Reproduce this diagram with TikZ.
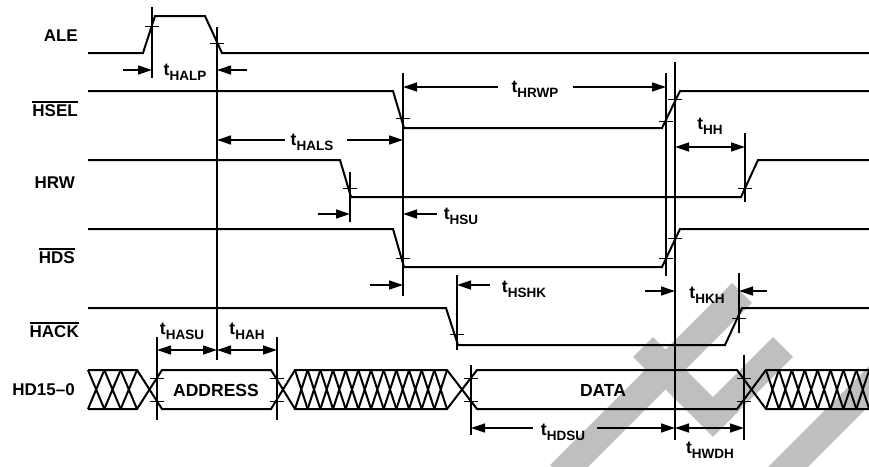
\documentclass[tikz,border=0pt]{standalone}
\usepackage{fontspec}
\setmainfont{Liberation Sans}
\usetikzlibrary{arrows.meta}
\definecolor{wmark}{HTML}{BFBFBF}

\newcommand{\tsub}[1]{t\raisebox{-0.3em}{\fontsize{13.5}{13.5}\selectfont #1}}
\newcommand{\ovl}[1]{\sbox0{#1}\rlap{\raisebox{\dimexpr\ht0+1.8pt\relax}{\rule{\wd0}{1.5pt}}}\usebox0}
\newcommand{\xhatch}[3]{\foreach \k in {1,...,#3}{\draw[sig] ({#1+(\k-1)*#2},370) -- ({#1+\k*#2},409) ({#1+(\k-1)*#2},409) -- ({#1+\k*#2},370);}}

\begin{document}
\begin{tikzpicture}[x=1pt, y=-1pt,
  sig/.style={line width=2pt, line join=miter},
  guide/.style={line width=1.1pt},
  tck/.style={line width=1pt},
  dimarrow/.style={line width=1.3pt, -{Triangle[length=14pt, width=9pt]}},
  dimboth/.style={line width=1.3pt, {Triangle[length=14pt, width=9pt]}-{Triangle[length=14pt, width=9pt]}},
  signame/.style={anchor=east, inner sep=0pt, font=\fontsize{17}{17}\selectfont\bfseries},
  tlabel/.style={inner sep=0pt, font=\fontsize{17.5}{17.5}\selectfont\bfseries},
  band/.style={wmark, line width=28pt}
]
  \useasboundingbox (0,0) rectangle (869,466);

  % watermark
  \draw[band] (742,293) -- (560,475);
  \draw[band] (783,347) -- (713,417) -- (643,347);
  \draw[band] (885,370) -- (775,480);

  % Signal names
  \node[signame] (ale) at (78,36) {ALE};
  \node[signame] (hsel) at (78,109) {\ovl{HSEL}};
  \node[signame] (hrw) at (75,183) {HRW};
  \node[signame] (hds) at (75,256) {\ovl{HDS}};
  \node[signame] (hack) at (79,330) {\ovl{HACK}};
  \node[signame] (hd) at (75,390) {HD15--0};

  % Waveforms
  \draw[sig] (88,53) -- (143,53) -- (155,16) -- (205,16) -- (222,53) -- (869,53);
  \draw[sig] (88,91) -- (393,91) -- (404,128) -- (662,128) -- (680,91) -- (869,91);
  \draw[sig] (88,160) -- (340,160) -- (351,197) -- (741,197) -- (758,160) -- (869,160);
  \draw[sig] (88,229) -- (393,229) -- (404,267) -- (662,267) -- (680,229) -- (869,229);
  \draw[sig] (88,308) -- (446,308) -- (458,345) -- (725,345) -- (742,308) -- (869,308);

  % Bus
  \draw[sig] (88,370) -- (137,370) -- (162,409) -- (271,409) -- (295,370) -- (447,370) -- (477,409) -- (737,409) -- (766,370) -- (869,370);
  \draw[sig] (88,409) -- (137,409) -- (162,370) -- (271,370) -- (295,409) -- (447,409) -- (477,370) -- (737,370) -- (766,409) -- (869,409);
  \xhatch{88}{16.33}{3}
  \xhatch{295}{12.67}{12}
  \xhatch{766}{12.9}{8}
  \node[tlabel] (addr) at (216,390) {ADDRESS};
  \node[tlabel] (data) at (603,390) {DATA};

  % Reference lines
  \foreach \x/\a/\b in {152/7/78, 217/27/360, 403/73/296, 350/172/222, 666/73/276,
                        675/62/440, 745/133/202, 457/275/350, 739/273/333,
                        157/337/420, 277/337/420, 471/365/435, 744/355/440}
    \draw[guide] (\x,\a) -- (\x,\b);

  % Crossing ticks
  \foreach \x/\y in {152/26, 217/43, 403/118, 666/121, 675/99, 350/188, 745/188,
                     403/258, 666/258, 675/238, 457/334, 739/318,
                     157/378, 157/401, 277/378, 277/401, 471/378, 471/401, 744/378, 744/401}
    \draw[tck] (\x-7,\y) -- (\x+7,\y);

  % Timing parameters
  \draw[dimarrow] (123,70) -- (152,70);
  \draw[dimarrow] (247,70) -- (217,70);
  \node[tlabel] (halp) at (185,72) {\tsub{HALP}};

  \draw[dimarrow] (285,140) -- (217,140);
  \draw[dimarrow] (347,140) -- (403,140);
  \node[tlabel] (hals) at (312,142) {\tsub{HALS}};

  \draw[dimarrow] (498,87) -- (403,87);
  \draw[dimarrow] (573,87) -- (666,87);
  \node[tlabel] (hrwp) at (535,89) {\tsub{HRWP}};

  \draw[dimboth] (675,147) -- (745,147);
  \node[tlabel] (hh) at (710,126) {\tsub{HH}};

  \draw[dimarrow] (318,214) -- (350,214);
  \draw[dimarrow] (437,214) -- (403,214);
  \node[tlabel] (hsu) at (461,216) {\tsub{HSU}};

  \draw[dimarrow] (370,285) -- (403,285);
  \draw[dimarrow] (490,285) -- (457,285);
  \node[tlabel] (hshk) at (524,289) {\tsub{HSHK}};

  \draw[dimarrow] (645,291) -- (675,291);
  \draw[dimarrow] (767,291) -- (739,291);
  \node[tlabel] (hkh) at (707,295) {\tsub{HKH}};

  \draw[dimboth] (157,350) -- (217,350);
  \draw[dimboth] (217,350) -- (277,350);
  \node[tlabel] (hasu) at (182,331) {\tsub{HASU}};
  \node[tlabel] (hah) at (247,331) {\tsub{HAH}};

  \draw[dimarrow] (533,428) -- (471,428);
  \draw[dimarrow] (597,428) -- (675,428);
  \node[tlabel] (hdsu) at (563,432) {\tsub{HDSU}};

  \draw[dimboth] (675,428) -- (744,428);
  \node[tlabel] (hwdh) at (710,450) {\tsub{HWDH}};
\end{tikzpicture}
\end{document}
